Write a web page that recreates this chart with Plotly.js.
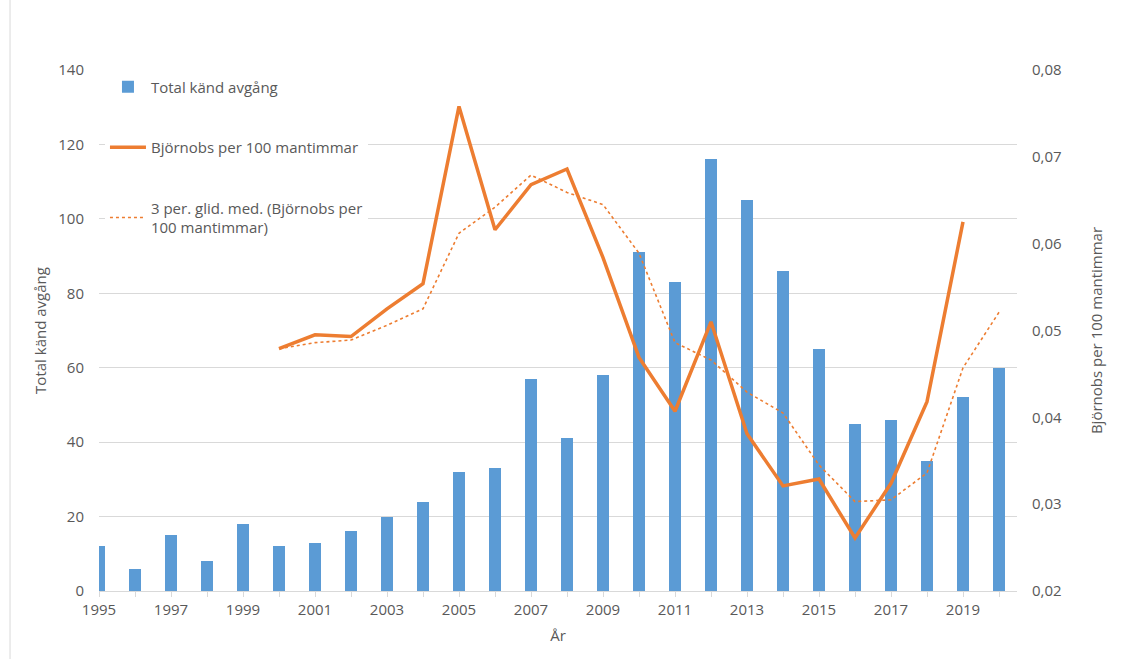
<!DOCTYPE html>
<html>
<head>
<meta charset="utf-8">
<script src="https://cdn.plot.ly/plotly-3.0.1.min.js"></script>
<style>html,body{margin:0;padding:0;background:#fff;}#chart{width:1133px;height:659px;}</style>
</head>
<body>
<div id="chart"></div>
<script>
const years = [1995,1996,1997,1998,1999,2000,2001,2002,2003,2004,2005,2006,2007,2008,2009,2010,2011,2012,2013,2014,2015,2016,2017,2018,2019,2020];
const totalAvgang = [12,6,15,8,18,12,13,16,20,24,32,33,57,41,58,91,83,116,105,86,65,45,46,35,52,60];

const lineYears = [2000,2001,2002,2003,2004,2005,2006,2007,2008,2009,2010,2011,2012,2013,2014,2015,2016,2017,2018,2019];
const bjornobs = [0.0479,0.0495,0.0493,0.0525,0.0554,0.0758,0.0616,0.0668,0.0686,0.0584,0.0469,0.0407,0.0510,0.0381,0.0321,0.0329,0.0261,0.0324,0.0418,0.0625];

const maYears = [2000,2001,2002,2003,2004,2005,2006,2007,2008,2009,2010,2011,2012,2013,2014,2015,2016,2017,2018,2019,2020];
const glidMed = [0.0479,0.0486,0.0489,0.0506,0.0525,0.0612,0.0642,0.0679,0.0659,0.0645,0.0589,0.0486,0.0466,0.0429,0.0405,0.0345,0.0303,0.0305,0.0336,0.0457,0.0521];

const xTicks = [1995,1997,1999,2001,2003,2005,2007,2009,2011,2013,2015,2017,2019];
const leftTicks = [0,20,40,60,80,100,120,140];
const rightTicks = [0.02,0.03,0.04,0.05,0.06,0.07,0.08];

const FONT = '"Open Sans", "Liberation Sans", sans-serif';
const TXT = '#595959';
const GRID = '#d9d9d9';

const traces = [
  {type:'bar', x:years, y:totalAvgang, name:'Total känd avgång', width:0.33,
   marker:{color:'#5B9BD5'}, legendgroup:'a', hoverinfo:'skip'},
  {type:'scatter', mode:'lines', x:lineYears, y:bjornobs, yaxis:'y2',
   name:'Björnobs per 100 mantimmar', line:{color:'#ED7D31', width:3.5},
   legendgroup:'b', hoverinfo:'skip'},
  {type:'scatter', mode:'lines', x:maYears, y:glidMed, yaxis:'y2',
   name:'3 per. glid. med. (Björnobs per<br>100 mantimmar)', line:{color:'#ED7D31', width:1.6, dash:'dot'},
   legendgroup:'c', hoverinfo:'skip'}
];

const layout = {
  width:1133, height:659,
  margin:{l:99, r:116, t:70, b:68, pad:0},
  paper_bgcolor:'#fff', plot_bgcolor:'#fff',
  separators:', ',
  font:{family:FONT, size:15, color:TXT},
  showlegend:true,
  legend:{x:0.0065, y:0.999, xanchor:'left', yanchor:'top', bgcolor:'#fff',
    traceorder:'grouped', tracegroupgap:38, itemwidth:36,
    font:{family:FONT, size:15, color:TXT}},
  bargap:0,
  xaxis:{range:[1995,2020.5], tickvals:xTicks, ticktext:xTicks.map(String),
    ticks:'outside', ticklen:5, tickcolor:GRID, showgrid:false, zeroline:false,
    showline:true, linecolor:GRID, linewidth:1,
    minor:{dtick:1, tick0:1995, ticks:'outside', ticklen:5, tickcolor:GRID, showgrid:false},
    tickfont:{size:15, color:TXT},
    title:{text:'År', font:{size:15, color:TXT}, standoff:12}},
  yaxis:{range:[0,140], tickvals:leftTicks, showgrid:true, gridcolor:GRID, gridwidth:1,
    zeroline:false, showline:false, ticks:'', ticklabelstandoff:14,
    tickfont:{size:15, color:TXT},
    title:{text:'Total känd avgång', font:{size:15, color:TXT}, standoff:8}},
  yaxis2:{range:[0.02,0.08], overlaying:'y', side:'right', tickvals:rightTicks,
    tickformat:'.2f', showgrid:false, zeroline:false, showline:false, ticks:'',
    ticklabelstandoff:14, tickfont:{size:15, color:TXT},
    title:{text:'Björnobs per 100 mantimmar', font:{size:15, color:TXT}, standoff:30}},
  shapes:[{type:'rect', xref:'paper', yref:'paper', x0:-0.0969, x1:1.2255, y0:-0.14, y1:1.137,
    line:{color:'#d9d9d9', width:1}, fillcolor:'rgba(0,0,0,0)', layer:'below'}]
};

Plotly.newPlot('chart', traces, layout, {displayModeBar:false, staticPlot:true});
</script>
</body>
</html>
